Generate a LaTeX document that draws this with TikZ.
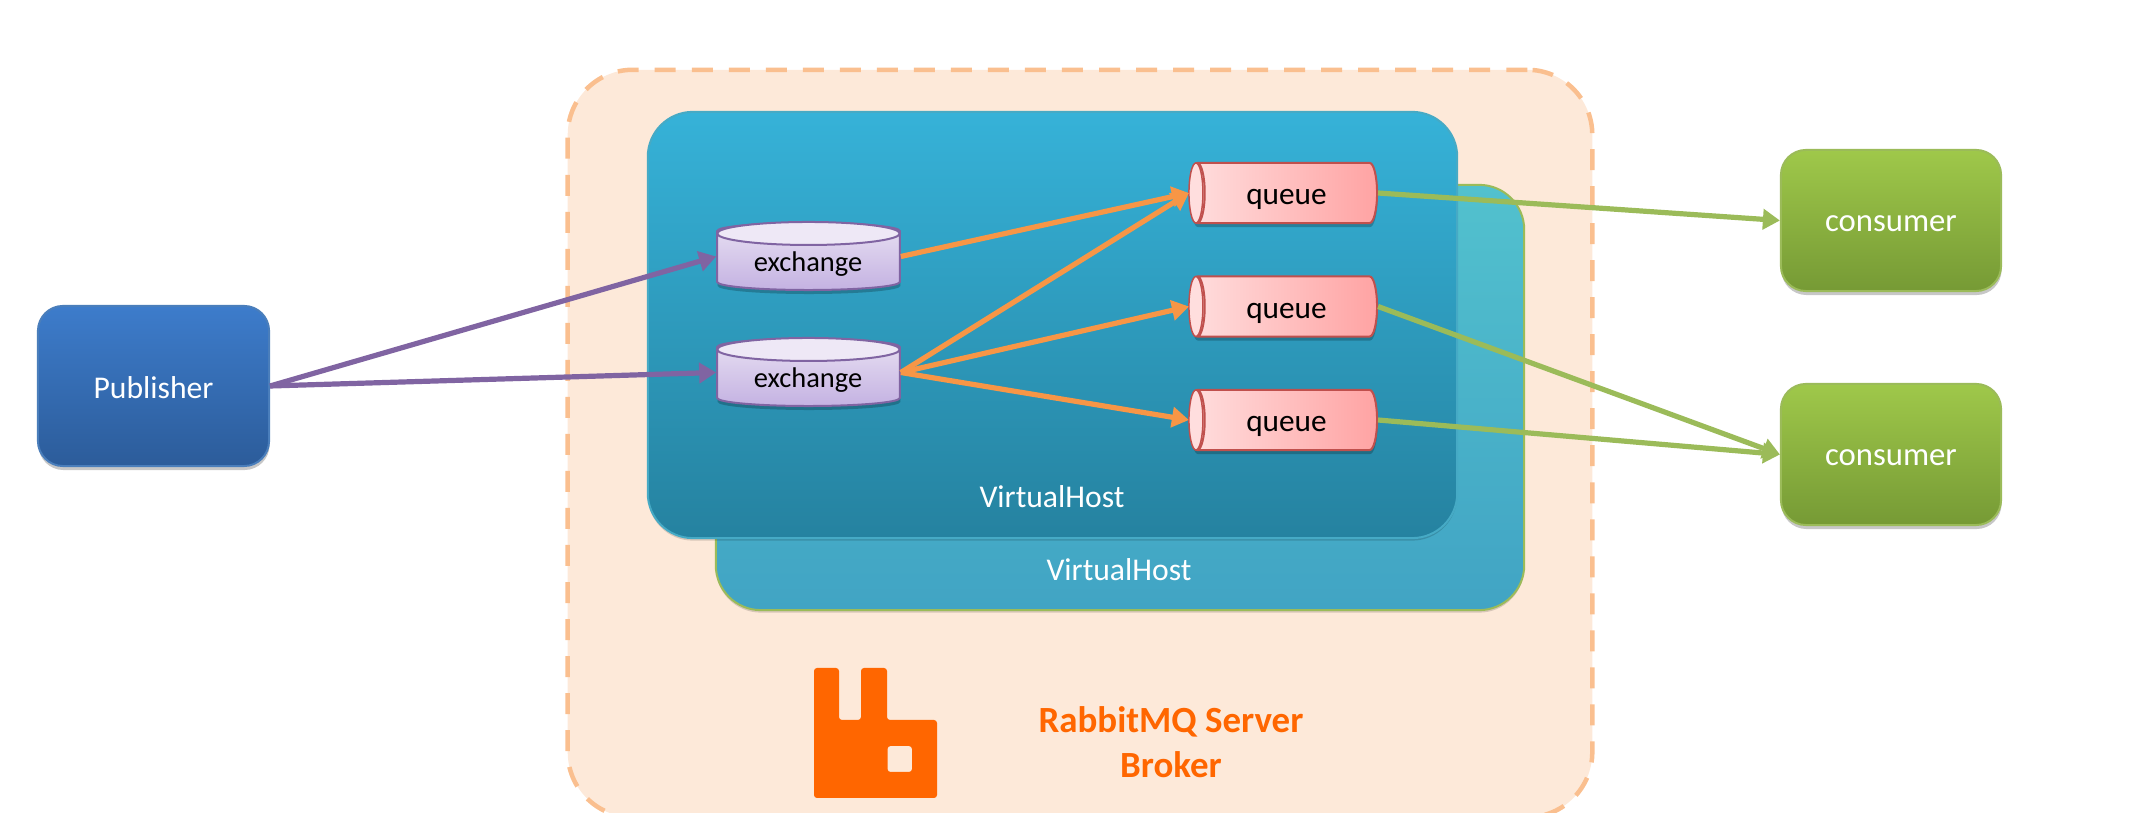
\documentclass[tikz,border=0pt]{standalone}
\usepackage{fontspec}
\setmainfont{Carlito}
\usetikzlibrary{arrows.meta,shapes.geometric,shadows}

\definecolor{brokerfill}{HTML}{FDE9D9}
\definecolor{brokerline}{HTML}{FABF8F}
\definecolor{rabbit}{HTML}{FF6600}
\definecolor{purpleline}{HTML}{8064A2}
\definecolor{orangeline}{HTML}{F79646}
\definecolor{greenline}{HTML}{9BBB59}
\definecolor{redline}{HTML}{C0504D}
\definecolor{pubtop}{HTML}{3D7CCB}
\definecolor{pubbot}{HTML}{2C5C9A}
\definecolor{publine}{HTML}{4A7EBB}
\definecolor{contop}{HTML}{9FC84A}
\definecolor{conbot}{HTML}{769A35}
\definecolor{vhatop}{HTML}{36B2D8}
\definecolor{vhabot}{HTML}{2582A0}
\definecolor{vhaline}{HTML}{46AAC5}
\definecolor{vhbtop}{HTML}{52C1CE}
\definecolor{vhbbot}{HTML}{41A4C4}
\definecolor{extop}{HTML}{E8E0F2}
\definecolor{exbot}{HTML}{C4B2E2}
\definecolor{exlidfill}{HTML}{EEE8F6}
\definecolor{qleft}{HTML}{FFDEDE}
\definecolor{qright}{HTML}{FFA3A3}

\tikzset{
	softshadow/.style={drop shadow={shadow xshift=0.005cm,shadow yshift=-0.04cm,opacity=0.22,fill=black}},
	box/.style={draw,rounded corners=0.25cm,inner sep=0pt,text=white,softshadow,line width=0.02cm,font=\fontsize{9}{11}\selectfont},
	publisher/.style={box,draw=publine,top color=pubtop,bottom color=pubbot,minimum width=2.31cm,minimum height=1.6cm,text height=7pt,text depth=0pt},
	consumer/.style={box,draw=greenline,top color=contop,bottom color=conbot,minimum width=2.2cm,minimum height=1.41cm,font=\fontsize{9.3}{11}\selectfont,text height=6.5pt,text depth=0pt},
	vhost/.style={draw,rounded corners=0.45cm,inner sep=0pt,line width=0.02cm,drop shadow={shadow xshift=0cm,shadow yshift=-0.025cm,opacity=0.15,fill=black}},
	vhlabel/.style={text=white,inner sep=0pt,font=\fontsize{9}{11}\selectfont},
	exchange/.style={cylinder,shape border rotate=90,shape aspect=0.12,draw=purpleline,line width=0.02cm,inner sep=0pt,minimum width=1.825cm,minimum height=0.67cm,top color=extop,bottom color=exbot,softshadow},
	exlid/.style={draw=purpleline,line width=0.02cm,fill=exlidfill},
	extext/.style={inner sep=0pt,font=\fontsize{8.1}{10}\selectfont},
	queue/.style={cylinder,shape border rotate=180,shape aspect=0.65,draw=redline,line width=0.02cm,inner sep=0pt,minimum width=0.6cm,minimum height=1.87cm,left color=qleft,right color=qright,softshadow},
	qlid/.style={draw=redline,line width=0.015cm,fill=qleft},
	qtext/.style={inner sep=0pt,font=\fontsize{8.9}{11}\selectfont},
	arrow/.style={-{Triangle[length=0.17cm,width=0.2cm]},line width=0.052cm},
}

\begin{document}
\begin{tikzpicture}[x=0.01cm,y=-0.01cm]
	\useasboundingbox (0,0) rectangle (2156,813);
	\clip (0,0) rectangle (2156,813);

	\node[draw=brokerline,fill=brokerfill,line width=0.045cm,dash pattern=on 0.21cm off 0.16cm,rounded corners=0.65cm,minimum width=10.24cm,minimum height=7.47cm] (broker) at (1080,443.5){};

	% second host lies behind the first one
	\node[vhost,draw=greenline,top color=vhbtop,bottom color=vhbbot,minimum width=8.08cm,minimum height=4.25cm] (vh2) at (1120,397.5){};
	\node[vhost,draw=vhaline,top color=vhatop,bottom color=vhabot,minimum width=8.09cm,minimum height=4.26cm] (vh1) at (1052.5,325){};
	\node[vhlabel] (vh1text) at (1052,497){VirtualHost};
	\node[vhlabel] (vh2text) at (1119,570){VirtualHost};

	\node[publisher] (pub) at (153.5,386){Publisher};
	\node[consumer] (con1) at (1891,220.5){consumer};
	\node[consumer] (con2) at (1891,454.5){consumer};

	\node[exchange,anchor=shape center] (ex1) at (808.5,256.5){\phantom{exchange}};
	\node[exchange,anchor=shape center] (ex2) at (808.5,372.5){\phantom{exchange}};
	\draw[exlid] ([yshift=-0.115cm]ex1.north) ellipse [x radius=0.9125cm,y radius=0.115cm];
	\draw[exlid] ([yshift=-0.115cm]ex2.north) ellipse [x radius=0.9125cm,y radius=0.115cm];
	\node[extext] (ex1text) at (808,264.5){exchange};
	\node[extext] (ex2text) at (808,380.5){exchange};

	\node[queue,anchor=shape center] (q1) at (1283.5,193){\phantom{queue}};
	\node[queue,anchor=shape center] (q2) at (1283.5,306.5){\phantom{queue}};
	\node[queue,anchor=shape center] (q3) at (1283.5,420){\phantom{queue}};
	\foreach \q in {q1,q2,q3}{
		\draw[qlid] ([xshift=0.07cm]\q.west) ellipse [x radius=0.07cm,y radius=0.3cm];
		\node[qtext] (\q text) at ([xshift=0.03cm,yshift=-0.065cm]\q.shape center){queue};
	}

	\draw[arrow,purpleline] (pub.east) -- (ex1.shape center -| ex1.west);
	\draw[arrow,purpleline] (pub.east) -- (ex2.shape center -| ex2.west);

	\draw[arrow,orangeline] (ex1.shape center -| ex1.east) -- (q1.west);
	\draw[arrow,orangeline] (ex2.shape center -| ex2.east) -- (q1.west);
	\draw[arrow,orangeline] (ex2.shape center -| ex2.east) -- (q2.west);
	\draw[arrow,orangeline] (ex2.shape center -| ex2.east) -- (q3.west);

	\draw[arrow,greenline] (q1.east) -- (con1.west);
	\draw[arrow,greenline] (q2.east) -- (con2.west);
	\draw[arrow,greenline] (q3.east) -- (con2.west);

	% rabbit logo
	\fill[rabbit,rounded corners=0.03cm,even odd rule] (814,668) -- (839,668) -- (839,720) -- (861,720) -- (861,668) -- (887,668) -- (887,720) -- (937,720) -- (937,798) -- (814,798) -- cycle
		(887.5,746) -- (912,746) -- (912,772) -- (887.5,772) -- cycle;
	\node[text=rabbit,align=center,inner sep=0pt,font=\fontsize{10.5}{12.8}\selectfont\bfseries] (brokertext) at (1171,742){RabbitMQ Server\\Broker};
\end{tikzpicture}
\end{document}
